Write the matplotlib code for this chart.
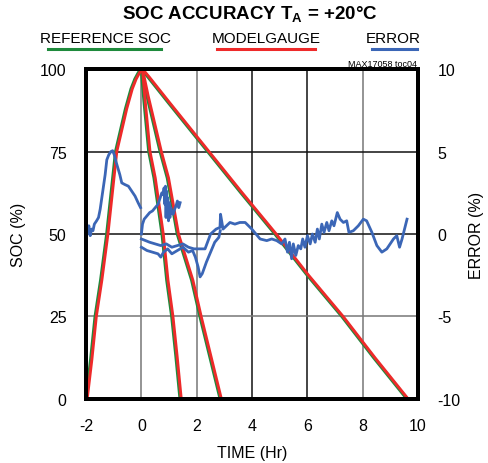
import matplotlib.pyplot as plt

# state of charge curves (time in hours, SOC in %)
chg_t = [-2.0, -1.83, -1.67, -1.47, -1.25, -0.93, -0.57, -0.37, -0.23, -0.1, 0.0]
chg_soc = [0, 12, 25, 36, 50, 75, 88, 94, 97, 99, 100]

fast_t = [0.0, 0.1, 0.27, 0.46, 0.75, 0.92, 1.10, 1.25, 1.40]
fast_soc = [100, 90, 75, 67, 50, 36, 25, 13, 0]

med_t = [0.0, 0.2, 0.68, 0.94, 1.30, 1.82, 2.12, 2.50, 2.85]
med_soc = [100, 92, 75, 67, 50, 36, 25, 12, 0]

slow_t = [0.0, 0.25, 0.96, 1.92, 2.4, 3.6, 4.83, 6.0, 7.25, 8.4, 9.6]
slow_soc = [100, 97.5, 90, 80, 75, 62.5, 50, 37.5, 25, 12.5, 0]

# error curves (%)
err_chg_t = [-2.0, -1.95, -1.9, -1.85, -1.8, -1.75, -1.7, -1.62, -1.55, -1.49, -1.43, -1.37, -1.31,
             -1.25, -1.18, -1.1, -1.04, -0.98, -0.92, -0.85, -0.78, -0.71, -0.6, -0.47, -0.35,
             -0.23, -0.12, -0.03]
err_chg = [0.3, 0.0, 0.5, -0.1, 0.3, 0.2, 0.6, 0.8, 1.0, 1.5, 2.2, 2.9, 3.6,
           4.5, 4.8, 5.0, 5.05, 4.8, 4.4, 4.0, 3.6, 3.1, 3.0, 2.9, 2.6,
           2.3, 1.9, 1.6]

err_fast_t = [0.0, 0.04, 0.1, 0.2, 0.3, 0.4, 0.5, 0.6, 0.68, 0.74, 0.78, 0.82, 0.85, 0.87,
              0.89, 0.91, 0.93, 0.95, 0.98, 1.0, 1.03, 1.06, 1.1, 1.15, 1.2, 1.25, 1.3, 1.35, 1.4]
err_fast = [0.0, 0.6, 0.9, 1.1, 1.3, 1.4, 1.6, 1.8, 2.2, 2.5, 2.4, 2.8, 1.8, 2.9,
            1.0, 2.6, 1.4, 2.2, 0.8, 1.9, 1.0, 1.6, 1.3, 1.2, 1.5, 1.7, 2.0, 1.6, 1.9]

err_med_t = [0.0, 0.2, 0.4, 0.6, 0.7, 0.8, 0.95, 1.1, 1.3, 1.5, 1.7, 1.85, 1.95, 2.05,
             2.12, 2.2, 2.35, 2.5, 2.65, 2.8, 2.85]
err_med = [-0.8, -1.0, -1.1, -1.2, -1.4, -1.1, -0.9, -1.2, -1.0, -0.8, -1.1, -1.0, -1.4, -2.0,
           -2.6, -2.4, -1.7, -1.1, -0.5, -0.2, 0.2]

err_slow_t = [0.0, 0.15, 0.3, 0.5, 0.7, 0.9, 1.1, 1.3, 1.5, 1.7, 1.9, 2.1, 2.3, 2.5, 2.7,
              2.84, 2.86, 2.95, 3.2, 3.38, 3.56, 3.75, 3.99, 4.29, 4.53, 4.71, 4.89, 5.07,
              5.19, 5.28, 5.35, 5.43, 5.49, 5.58, 5.67, 5.76, 5.83, 5.91, 6.0, 6.1, 6.18, 6.28,
              6.36, 6.43, 6.52, 6.6, 6.7, 6.78, 6.88, 6.96, 7.08, 7.18, 7.3, 7.42, 7.5, 7.66,
              7.84, 8.02, 8.14, 8.33, 8.51, 8.69, 8.87, 9.11, 9.23, 9.33, 9.42, 9.6]
err_slow = [-0.3, -0.4, -0.5, -0.6, -0.7, -0.6, -0.8, -0.7, -0.6, -0.8, -0.9, -0.9, -0.9, 0.0, 0.3,
            0.4, 1.2, 0.3, 0.7, 0.6, 0.7, 0.7, 0.3, -0.3, -0.4, -0.3, -0.4, -0.6,
            -0.3, -1.1, -0.5, -1.5, -0.6, -1.3, -0.7, -0.9, -0.3, -0.8, -0.1, -0.6, 0.0, -0.5,
            0.3, -0.3, 0.6, 0.1, 0.7, 0.2, 0.8, 0.5, 1.3, 0.9, 0.7, 0.8, 0.1, 0.2,
            0.5, 0.9, 0.8, 0.1, -0.7, -1.1, -0.9, -0.3, -0.1, -0.8, -0.3, 0.9]

green = "#1e8a3c"
red = "#ee2a2a"
blue = "#3b66b6"
plt.rcParams["font.family"] = ["Liberation Sans", "DejaVu Sans"]
plt.rcParams["axes.unicode_minus"] = False

fig = plt.figure(figsize=(4.89, 4.64), dpi=100)
ax = fig.add_axes([0.176, 0.138, 0.679, 0.711])

# grid lines, some darker like the original
for x, c in zip([0, 2, 4, 6, 8], ["#777777", "#777777", "#111111", "#111111", "#777777"]):
    ax.axvline(x, color=c, lw=1.1, zorder=0)
for y, c in zip([25, 50, 75], ["#777777", "#111111", "#111111"]):
    ax.axhline(y, color=c, lw=1.1, zorder=0)

for t, s in [(chg_t, chg_soc), (fast_t, fast_soc), (med_t, med_soc), (slow_t, slow_soc)]:
    ax.plot(t, s, color=green, lw=2.4, solid_capstyle="round")
for t, s in [(chg_t, chg_soc), (fast_t, fast_soc), (med_t, med_soc), (slow_t, slow_soc)]:
    ax.plot([v + 0.04 for v in t], s, color=red, lw=2.1, solid_capstyle="round")

ax.set_xlim(-2, 10)
ax.set_ylim(0, 100)
ax.set_xticks([-2, 0, 2, 4, 6, 8, 10])
ax.set_yticks([0, 25, 50, 75, 100])
ax.tick_params(length=0, labelsize=11.5, pad=14)
ax.set_xlabel("TIME (Hr)", fontsize=11.5, labelpad=8)
ax.set_ylabel("SOC (%)", fontsize=11.5, labelpad=10)

ax2 = ax.twinx()
for t, e in [(err_chg_t, err_chg), (err_fast_t, err_fast), (err_med_t, err_med), (err_slow_t, err_slow)]:
    ax2.plot(t, e, color=blue, lw=2.0)
ax2.set_ylim(-10, 10)
ax2.set_yticks([-10, -5, 0, 5, 10])
ax2.tick_params(length=0, labelsize=11.5, pad=14)
ax2.set_ylabel("ERROR (%)", fontsize=11.5, labelpad=6)

for a in (ax, ax2):
    for sp in a.spines.values():
        sp.set_linewidth(2.8)

fig.text(0.511, 0.967, "SOC ACCURACY T$_\\mathregular{A}$ = +20°C", ha="center", va="center",
         fontsize=13.5, fontweight="bold")
legend_items = [("REFERENCE SOC", green, 0.215, 0.098, 0.329),
                ("MODELGAUGE", red, 0.544, 0.444, 0.644),
                ("ERROR", blue, 0.804, 0.761, 0.853)]
for label, c, xc, x0, x1 in legend_items:
    fig.text(xc, 0.916, label, ha="center", va="center", fontsize=11)
    fig.lines.append(plt.Line2D([x0, x1], [0.892, 0.892], color=c, lw=2.2,
                                transform=fig.transFigure))
fig.text(0.852, 0.862, "MAX17058 toc04", ha="right", va="center", fontsize=6.5)

fig.savefig("out.png", dpi=100)
